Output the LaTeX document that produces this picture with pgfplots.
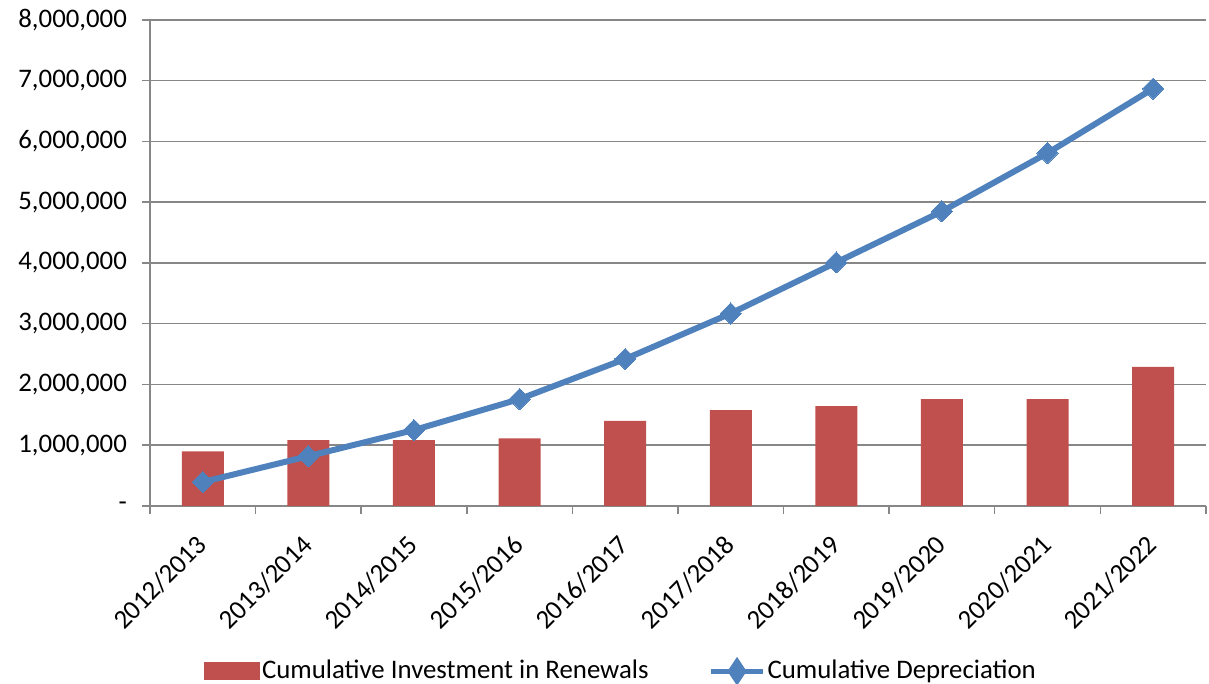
\documentclass[border=0pt]{standalone}
\usepackage{pgfplots}
\pgfplotsset{compat=1.18}
\usepackage{fontspec}
\setmainfont{Carlito}
\definecolor{barred}{HTML}{C0504D}
\definecolor{lineblue}{HTML}{4F81BD}
\definecolor{gridgray}{HTML}{878787}
\begin{document}
\begin{tikzpicture}[x=1bp,y=1bp]
\fontsize{26.8bp}{31bp}\selectfont
\path[use as bounding box] (-150,-178) rectangle (1059,506);
\begin{axis}[
  at={(0,0)}, anchor=south west,
  scale only axis, width=1056bp, height=486bp,
  xmin=-0.5, xmax=9.5, ymin=0, ymax=8000000,
  scaled y ticks=false,
  axis x line*=bottom, axis y line*=left,
  axis line style={gridgray, line width=1.5bp, -},
  xtick={0,...,9},
  xticklabels={2012/2013,2013/2014,2014/2015,2015/2016,2016/2017,2017/2018,2018/2019,2019/2020,2020/2021,2021/2022},
  minor xtick={-0.5,0.5,...,9.5},
  x tick label style={rotate=45, anchor=north east, font=\fontsize{26.8bp}{31bp}\selectfont, inner sep=2bp, yshift=-6bp, xshift=-17bp},
  ytick={0,1000000,...,8000000},
  yticklabels={-,{1,000,000},{2,000,000},{3,000,000},{4,000,000},{5,000,000},{6,000,000},{7,000,000},{8,000,000}},
  y tick label style={font=\fontsize{26.8bp}{31bp}\selectfont, xshift=-6bp},
  ymajorgrids, major grid style={gridgray, line width=1.5bp},
  tick style={gridgray, line width=1.5bp},
  xtick style={draw=none},
  minor x tick style={draw=gridgray, line width=1.5bp},
  tick align=outside,
  major tick length=8bp, minor tick length=8bp,
  xtick pos=bottom, ytick pos=left,
  /pgf/number format/assume math mode=true,
  legend columns=2,
  legend style={at={(0.446,-0.34)}, anchor=center, draw=none, fill=none,
    font=\fontsize{26.8bp}{31bp}\selectfont,
    /tikz/every even column/.append style={column sep=58bp},
    inner sep=0pt, row sep=0pt},
  legend cell align=left,
]
\addplot[ybar, bar width=42bp, fill=barred, draw=none,
  legend image code/.code={\fill[barred] (0bp,-9bp) rectangle (56bp,9bp);}]
  coordinates {(0,900000) (1,1085000) (2,1085000) (3,1115000) (4,1400000) (5,1580000) (6,1645000) (7,1760000) (8,1760000) (9,2290000)};
\addlegendentry{Cumulative Investment in Renewals}
\addplot[lineblue, line width=6bp, mark=square*, mark size=7.5bp, mark options={rotate=45, line width=0pt, fill=lineblue},
  legend image code/.code={\draw[lineblue, line width=5bp] (0bp,0bp) -- (52bp,0bp);
     \fill[lineblue] (26bp,-9bp) -- (32bp,0bp) -- (26bp,9bp) -- (20bp,0bp) -- cycle;}]
  coordinates {(0,395000) (1,820000) (2,1250000) (3,1760000) (4,2420000) (5,3170000) (6,4010000) (7,4850000) (8,5810000) (9,6870000)};
\addlegendentry{Cumulative Depreciation}
\end{axis}
\end{tikzpicture}
\end{document}
